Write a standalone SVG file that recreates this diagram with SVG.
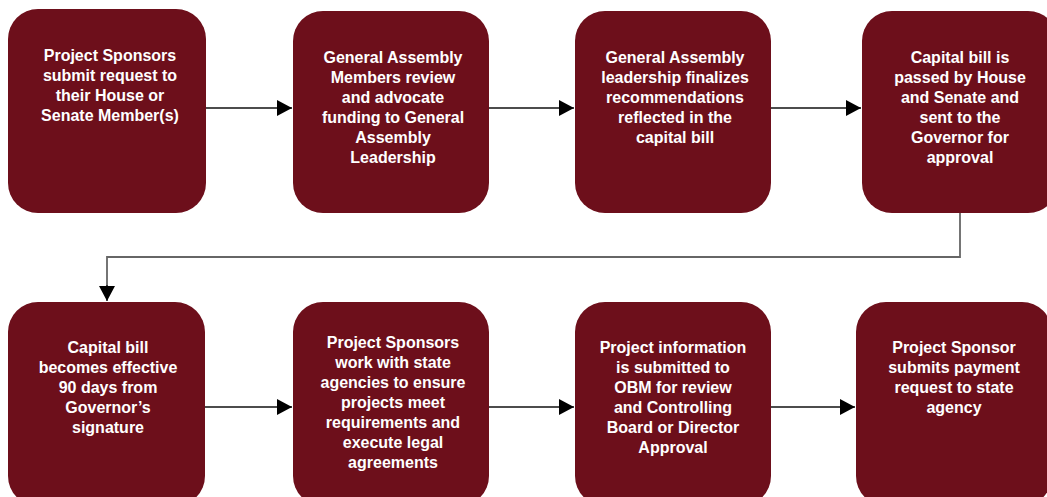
<svg xmlns="http://www.w3.org/2000/svg" width="1047" height="497" viewBox="0 0 1047 497">
<style>
.box{fill:#6D0F1B;}
.t{font-family:"Liberation Sans",Arial,sans-serif;font-weight:bold;font-size:16px;fill:#ffffff;text-anchor:middle;}
.c{fill:none;stroke:#111;stroke-width:1.3;}
.g{fill:none;stroke:#666;stroke-width:1.8;}
</style>
<defs>
<marker id="ah" markerWidth="16" markerHeight="16" refX="15" refY="8" orient="auto" markerUnits="userSpaceOnUse">
<path d="M0,0 L15,8 L0,16 Z" fill="#000"/>
</marker>
</defs>
<rect width="1047" height="497" fill="#ffffff"/>
<g id="connectors">
<line class="c" x1="206" y1="108" x2="292" y2="108" marker-end="url(#ah)"/>
<line class="c" x1="489" y1="108" x2="574" y2="108" marker-end="url(#ah)"/>
<line class="c" x1="771" y1="108" x2="861" y2="108" marker-end="url(#ah)"/>
<polyline class="g" points="960,213 960,257 107,257 107,286"/>
<line class="c" x1="107" y1="285" x2="107" y2="301" stroke="#111" marker-end="url(#ah)"/>
<line class="c" x1="205" y1="407" x2="292" y2="407" marker-end="url(#ah)"/>
<line class="c" x1="489" y1="407" x2="574" y2="407" marker-end="url(#ah)"/>
<line class="c" x1="771" y1="407" x2="855" y2="407" marker-end="url(#ah)"/>
</g>
<g id="n1">
<rect class="box" x="8" y="9" width="198" height="204" rx="30"/>
<text class="t"><tspan x="110" y="61">Project Sponsors</tspan><tspan x="110" y="81">submit request to</tspan><tspan x="110" y="101">their House or</tspan><tspan x="110" y="121">Senate Member(s)</tspan></text>
</g>
<g id="n2">
<rect class="box" x="293" y="11" width="196" height="202" rx="30"/>
<text class="t"><tspan x="393" y="63">General Assembly</tspan><tspan x="393" y="83">Members review</tspan><tspan x="393" y="103">and advocate</tspan><tspan x="393" y="123">funding to General</tspan><tspan x="393" y="143">Assembly</tspan><tspan x="393" y="163">Leadership</tspan></text>
</g>
<g id="n3">
<rect class="box" x="575" y="11" width="196" height="202" rx="30"/>
<text class="t"><tspan x="675" y="63">General Assembly</tspan><tspan x="675" y="83">leadership finalizes</tspan><tspan x="675" y="103">recommendations</tspan><tspan x="675" y="123">reflected in the</tspan><tspan x="675" y="143">capital bill</tspan></text>
</g>
<g id="n4">
<rect class="box" x="862" y="11" width="196" height="202" rx="30"/>
<text class="t"><tspan x="960" y="63">Capital bill is</tspan><tspan x="960" y="83">passed by House</tspan><tspan x="960" y="103">and Senate and</tspan><tspan x="960" y="123">sent to the</tspan><tspan x="960" y="143">Governor for</tspan><tspan x="960" y="163">approval</tspan></text>
</g>
<g id="n5">
<rect class="box" x="8" y="302" width="197" height="204" rx="30"/>
<text class="t"><tspan x="108" y="353">Capital bill</tspan><tspan x="108" y="373">becomes effective</tspan><tspan x="108" y="393">90 days from</tspan><tspan x="108" y="413">Governor’s</tspan><tspan x="108" y="433">signature</tspan></text>
</g>
<g id="n6">
<rect class="box" x="293" y="302" width="196" height="204" rx="30"/>
<text class="t"><tspan x="393" y="348">Project Sponsors</tspan><tspan x="393" y="368">work with state</tspan><tspan x="393" y="388">agencies to ensure</tspan><tspan x="393" y="408">projects meet</tspan><tspan x="393" y="428">requirements and</tspan><tspan x="393" y="448">execute legal</tspan><tspan x="393" y="468">agreements</tspan></text>
</g>
<g id="n7">
<rect class="box" x="575" y="302" width="196" height="204" rx="30"/>
<text class="t"><tspan x="673" y="353">Project information</tspan><tspan x="673" y="373">is submitted to</tspan><tspan x="673" y="393">OBM for review</tspan><tspan x="673" y="413">and Controlling</tspan><tspan x="673" y="433">Board or Director</tspan><tspan x="673" y="453">Approval</tspan></text>
</g>
<g id="n8">
<rect class="box" x="856" y="302" width="196" height="204" rx="30"/>
<text class="t"><tspan x="954" y="353">Project Sponsor</tspan><tspan x="954" y="373">submits payment</tspan><tspan x="954" y="393">request to state</tspan><tspan x="954" y="413">agency</tspan></text>
</g>
</svg>
